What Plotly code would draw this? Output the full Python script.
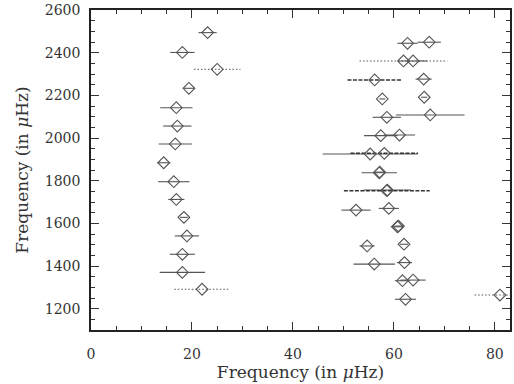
import plotly.graph_objects as go

# Left ridge (low-frequency branch)
left_x = [23.1, 18.1, 25.0, 19.4, 16.9, 17.1, 16.7, 14.4, 16.4, 16.9, 18.4, 19.0, 18.1, 18.1, 22.0]
left_y = [2494, 2401, 2322, 2233, 2142, 2056, 1972, 1884, 1795, 1712, 1628, 1541, 1455, 1370, 1291]
left_err = [1.8, 2.4, 4.6, 1.0, 3.2, 2.8, 3.3, 1.3, 3.1, 1.6, 0.8, 2.4, 2.5, 4.5, 5.5]
left_style = ["solid", "solid", "dot", "solid", "solid", "solid", "solid", "solid",
              "solid", "solid", "solid", "solid", "solid", "solid", "dot"]

# Right ridge (high-frequency branch)
right_x = [62.7, 67.0, 61.9, 63.8, 56.2, 65.9, 57.7, 66.0, 58.6, 67.2, 57.4, 61.1,
           55.3, 58.1, 57.1, 57.2, 58.6, 58.7, 52.5, 59.0, 60.7, 60.9, 54.7, 62.0,
           56.1, 62.1, 61.7, 63.8, 62.3, 81.0]
right_y = [2444, 2449, 2361, 2361, 2272, 2276, 2183, 2191, 2097, 2108, 2011, 2014,
           1925, 1928, 1837, 1840, 1753, 1756, 1662, 1670, 1584, 1587, 1494, 1502,
           1409, 1416, 1331, 1334, 1244, 1264]
right_err = [2.0, 2.3, 8.7, 2.8, 5.4, 1.6, 0.6, 0.6, 2.8, 6.8, 3.3, 3.1,
             9.4, 6.7, 3.5, 1.0, 8.5, 4.7, 2.9, 2.0, 1.3, 0.8, 1.5, 0.8,
             4.1, 1.5, 1.5, 2.5, 2.1, 5.0]
right_style = ["solid", "solid", "dot", "solid", "dash", "solid", "solid", "solid",
               "solid", "solid", "solid", "solid", "solid", "dash", "solid", "solid",
               "dash", "solid", "solid", "solid", "solid", "solid", "solid", "solid",
               "solid", "solid", "solid", "solid", "solid", "dot"]

xs = left_x + right_x
ys = left_y + right_y
errs = left_err + right_err
styles = left_style + right_style

fig = go.Figure()

style_fmt = {
    "solid": dict(color="#555", width=1.1, dash="solid"),
    "dot": dict(color="#555", width=1.0, dash="1.5px,2px"),
    "dash": dict(color="#333", width=1.5, dash="4px,1.5px"),
}
for st, ln in style_fmt.items():
    lx, ly = [], []
    for x, y, e, s in zip(xs, ys, errs, styles):
        if s == st:
            lx += [x - e, x + e, None]
            ly += [y, y, None]
    fig.add_trace(go.Scatter(x=lx, y=ly, mode="lines", line=ln,
                             hoverinfo="skip", showlegend=False))

fig.add_trace(go.Scatter(
    x=xs, y=ys, mode="markers",
    marker=dict(symbol="diamond-open", size=9, color="#555",
                line=dict(width=1.1, color="#555")),
    showlegend=False))

font = dict(family="DejaVu Serif", size=14, color="#333")
title_font = dict(family="DejaVu Serif", size=17, color="#333")

fig.update_layout(
    width=514, height=384,
    margin=dict(l=91, r=2, t=10, b=54),
    paper_bgcolor="white", plot_bgcolor="white",
    font=font,
)
fig.update_xaxes(
    range=[0, 83], tickvals=[0, 20, 40, 60, 80],
    ticks="inside", ticklen=8, tickwidth=1, tickcolor="#333",
    minor=dict(ticks="inside", ticklen=4, dtick=5, tickcolor="#333"),
    showline=True, linecolor="#222", linewidth=1.5, mirror="ticks",
    showgrid=False, zeroline=False, ticklabelstandoff=10,
    title=dict(text="Frequency (in <i>μ</i>Hz)", font=title_font, standoff=2),
)
fig.update_yaxes(
    range=[1100, 2600], tickvals=[1200, 1400, 1600, 1800, 2000, 2200, 2400, 2600],
    ticks="inside", ticklen=8, tickwidth=1, tickcolor="#333",
    minor=dict(ticks="inside", ticklen=4, dtick=50, tickcolor="#333"),
    showline=True, linecolor="#222", linewidth=1.5, mirror="ticks",
    showgrid=False, zeroline=False, ticklabelstandoff=6,
    title=dict(text="Frequency (in <i>μ</i>Hz)", font=title_font, standoff=12),
)

fig.write_html("out.html")
